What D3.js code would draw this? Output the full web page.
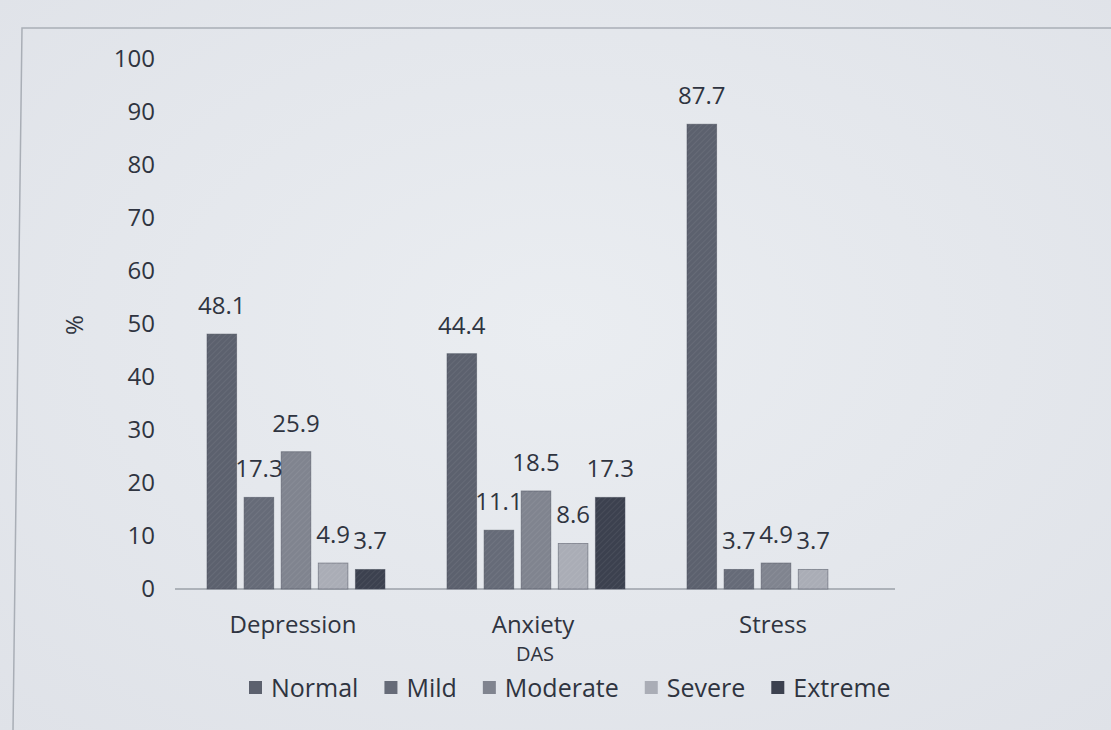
<!DOCTYPE html>
<html>
<head>
<meta charset="utf-8">
<script src="https://cdn.jsdelivr.net/npm/d3@7"></script>
<style>
  html, body { margin: 0; padding: 0; background: #e4e7ec; }
  svg { display: block; }
  text { font-family: "Open Sans", "Noto Sans", sans-serif; fill: #2f3440; }
</style>
</head>
<body>
<svg id="chart" width="1111" height="730"></svg>
<script>
// DAS severity levels (%), per scale
const categories = ["Depression", "Anxiety", "Stress"];
const series = ["Normal", "Mild", "Moderate", "Severe", "Extreme"];
const normal   = [48.1, 44.4, 87.7];
const mild     = [17.3, 11.1, 3.7];
const moderate = [25.9, 18.5, 4.9];
const severe   = [4.9, 8.6, 3.7];
const extreme  = [3.7, 17.3, null];
const yTicks = [0, 10, 20, 30, 40, 50, 60, 70, 80, 90, 100];

const values = [normal, mild, moderate, severe, extreme];
const colors = ["#5c616e", "#666b78", "#80848f", "#aaadb6", "#3c414f"];

const svg = d3.select("#chart");

// soft page shading
const defs = svg.append("defs");
const grad = defs.append("radialGradient").attr("id", "page")
  .attr("cx", "50%").attr("cy", "45%").attr("r", "75%");
grad.append("stop").attr("offset", "0%").attr("stop-color", "#eaedf1");
grad.append("stop").attr("offset", "100%").attr("stop-color", "#dfe2e8");
svg.append("rect").attr("width", 1111).attr("height", 730).attr("fill", "url(#page)");

// fine print texture on bars
const hatch = defs.append("pattern").attr("id", "hatch")
  .attr("width", 4).attr("height", 4).attr("patternUnits", "userSpaceOnUse")
  .attr("patternTransform", "rotate(45)");
hatch.append("line").attr("x1", 0).attr("y1", 0).attr("x2", 0).attr("y2", 4)
  .attr("stroke", "#ffffff").attr("stroke-width", 1).attr("stroke-opacity", 0.12);

// chart frame
svg.append("path")
  .attr("d", "M1111,28 L22,28 L13,730")
  .attr("fill", "none").attr("stroke", "#a9aeb6").attr("stroke-width", 1.5);

const x0 = d3.scaleBand().domain(categories).range([175, 895]);
const x1 = d3.scaleBand().domain(series).range([32, 210]).paddingInner(0.2);
const y = d3.scaleLinear().domain([0, 100]).range([589, 59]);

// y tick labels
const yAxis = d3.axisLeft(y).tickValues(yTicks).tickSize(0).tickPadding(0);
const ga = svg.append("g").attr("transform", "translate(155,0)").call(yAxis);
ga.select(".domain").remove();
ga.selectAll("text").attr("font-size", 24).attr("fill", "#2f3440")
  .style("font-family", '"Open Sans", "Noto Sans", sans-serif');

// baseline
svg.append("line")
  .attr("x1", x0.range()[0]).attr("x2", x0.range()[1])
  .attr("y1", y(0)).attr("y2", y(0))
  .attr("stroke", "#9ba0a9").attr("stroke-width", 1.5);

// bars
const bars = [];
categories.forEach((c, ci) => {
  series.forEach((s, si) => {
    const v = values[si][ci];
    if (v !== null) bars.push({ c, s, si, v });
  });
});

const gb = svg.append("g");
gb.selectAll("rect.bar").data(bars).join("rect")
  .attr("class", "bar")
  .attr("x", d => x0(d.c) + x1(d.s))
  .attr("y", d => y(d.v))
  .attr("width", x1.bandwidth())
  .attr("height", d => y(0) - y(d.v))
  .attr("fill", d => colors[d.si])
  .attr("stroke", "#4a4f5b").attr("stroke-width", 0.8).attr("stroke-opacity", 0.6);
gb.selectAll("rect.tex").data(bars).join("rect")
  .attr("class", "tex")
  .attr("x", d => x0(d.c) + x1(d.s))
  .attr("y", d => y(d.v))
  .attr("width", x1.bandwidth())
  .attr("height", d => y(0) - y(d.v))
  .attr("fill", "url(#hatch)");

// value labels
svg.append("g").selectAll("text").data(bars).join("text")
  .attr("x", d => x0(d.c) + x1(d.s) + x1.bandwidth() / 2)
  .attr("y", d => y(d.v) - 20)
  .attr("text-anchor", "middle")
  .attr("font-size", 24)
  .text(d => d.v.toFixed(1));

// category labels
svg.append("g").selectAll("text").data(categories).join("text")
  .attr("x", d => x0(d) + x0.bandwidth() / 2 - 2)
  .attr("y", 633)
  .attr("text-anchor", "middle")
  .attr("font-size", 24)
  .text(d => d);

// axis titles
svg.append("text")
  .attr("transform", "translate(83,325) rotate(-90)")
  .attr("text-anchor", "middle")
  .attr("font-size", 24)
  .text("%");
svg.append("text")
  .attr("x", 535).attr("y", 661)
  .attr("text-anchor", "middle")
  .attr("font-size", 20)
  .text("DAS");

// legend
const lg = svg.append("g");
let lx = 249;
series.forEach((s, i) => {
  lg.append("rect").attr("x", lx).attr("y", 681).attr("width", 13).attr("height", 13)
    .attr("fill", colors[i]);
  const t = lg.append("text").attr("x", lx + 22).attr("y", 697)
    .attr("font-size", 25).text(s);
  lx += 22 + t.node().getComputedTextLength() + 26;
});
</script>
</body>
</html>
